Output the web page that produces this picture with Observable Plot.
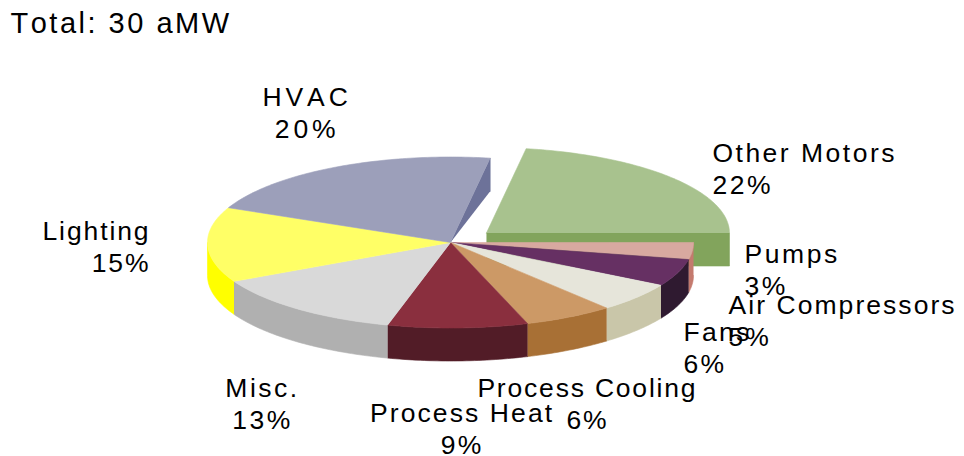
<!DOCTYPE html>
<html>
<head>
<meta charset="utf-8">
<script src="https://cdn.jsdelivr.net/npm/d3@7"></script>
<script src="https://cdn.jsdelivr.net/npm/@observablehq/plot@0.6"></script>
<style>html,body{margin:0;padding:0;background:#fff}svg{display:block}</style>
</head>
<body>
<div id="chart"></div>
<script>
// Data, clockwise from the exploded slice
const categories = ["Other Motors","Pumps","Air Compressors","Fans","Process Cooling","Process Heat","Misc.","Lighting","HVAC"];
const labelledPercent = [22,3,5,6,6,9,13,15,20];
const sliceShares = [22.39,3.19,5.14,5.56,5.97,9.30,13.33,14.17,20.94];
const totalLabel = "Total: 30 aMW";

// Styling
const topColors  = ["#A8C28E","#D8A9A0","#663063","#E6E5DA","#CC9966","#8A2F3E","#D9D9D9","#FFFF66","#9C9FBA"];
const sideColors = ["#82A45C","#C47A6E","#2F1A30","#C9C6A9","#A87035","#521C27","#B0B0B0","#FFFF00","#6D7299"];
const labelAnchor = ["start","start","start","start","middle","middle","middle","end","middle"];
const labelDx = [40.6,52.2,50.8,46.9,18.2,4.2,-35.1,-57.1,-28.2];
const labelDy = [-37.8,-10.7,18.6,20.9,57.5,71.5,65.5,-27.3,-83.8];
const labelSpacing = [2.5,2.6,2.05,2.3,1.8,2.1,2.5,1.9,3.9];

// Pie geometry, in units of the pie radius
const startDeg = 9.4;
const depth = 0.386;
const explode = {x: 0.148, y: 0.111};
const explodedIndex = 0;

const totalShare = d3.sum(sliceShares);
let running = startDeg;
const slices = categories.map((name, i) => {
  const a0 = running;
  const a1 = running + sliceShares[i] / totalShare * 360;
  running = a1;
  const off = i === explodedIndex ? explode : {x: 0, y: 0};
  return {name, i, a0, a1, off};
});
const rim = (deg, s, drop = 0) => {
  const r = deg * Math.PI / 180;
  return {x: s.off.x + Math.sin(r), y: s.off.y + Math.cos(r) - drop};
};
const arcDegs = (a, b) => {
  const n = Math.max(1, Math.ceil(Math.abs(b - a)));
  return d3.range(n + 1).map(k => a + (b - a) * k / n);
};
const topFace = s => [{x: s.off.x, y: s.off.y}, ...arcDegs(s.a0, s.a1).map(d => rim(d, s))];
const wall = s => {
  const a = Math.max(s.a0, 90), b = Math.min(s.a1, 270);
  if (b <= a) return null;
  const degs = arcDegs(a, b);
  return [...degs.map(d => rim(d, s)), ...degs.slice().reverse().map(d => rim(d, s, depth))];
};
const poly = (pts, color) => Plot.line(pts, {x: "x", y: "y", fill: color, stroke: color, strokeWidth: 0.6});
const spaced = px => function (index, scales, values, dimensions, context, next) {
  const g = next(index, scales, values, dimensions, context);
  g.style.letterSpacing = px + "px";
  return g;
};

const marks = [];
// exploded slice: its flat cut face, then top
const ex = slices[explodedIndex];
marks.push(poly([{x: ex.off.x, y: ex.off.y}, rim(90, ex), rim(90, ex, depth), {x: ex.off.x, y: ex.off.y - depth}], sideColors[0]));
marks.push(poly(topFace(ex), topColors[0]));
// cut face of the last slice, facing the gap
const last = slices[slices.length - 1];
marks.push(poly([{x: 0, y: 0}, rim(last.a1, last), rim(last.a1, last, depth)], sideColors[last.i]));
// outer walls, then top faces
slices.filter(s => s.i !== explodedIndex).forEach(s => {
  const w = wall(s);
  if (w) marks.push(poly(w, sideColors[s.i]));
});
slices.filter(s => s.i !== explodedIndex).forEach(s => marks.push(poly(topFace(s), topColors[s.i])));
// slice labels, anchored to the rim midpoint of each slice
slices.forEach(s => {
  const p = rim((s.a0 + s.a1) / 2, s);
  marks.push(Plot.text([p], {
    x: "x", y: "y",
    text: () => `${s.name}\n${labelledPercent[s.i]}%`,
    textAnchor: labelAnchor[s.i],
    lineAnchor: "top",
    lineHeight: 1.2,
    dx: labelDx[s.i], dy: labelDy[s.i],
    fontSize: 26.5,
    fill: "#000",
    render: spaced(labelSpacing[s.i])
  }));
});
marks.push(Plot.text([totalLabel], {
  frameAnchor: "top-left", text: d => d, dx: 10, dy: 12.2, lineAnchor: "top", textAnchor: "start", fontSize: 29, fill: "#000",
  render: spaced(2.5)
}));

const chart = Plot.plot({
  width: 964, height: 456,
  margin: 0,
  x: {axis: null, domain: [-1, 1], range: [207, 693]},
  y: {axis: null, domain: [-1, 1], range: [327.5, 156.5]},
  style: {fontFamily: "'Liberation Sans', Arial, sans-serif", fontSize: "26px", fontKerning: "none", background: "#fff"},
  marks
});
document.getElementById("chart").append(chart);
</script>
</body>
</html>
